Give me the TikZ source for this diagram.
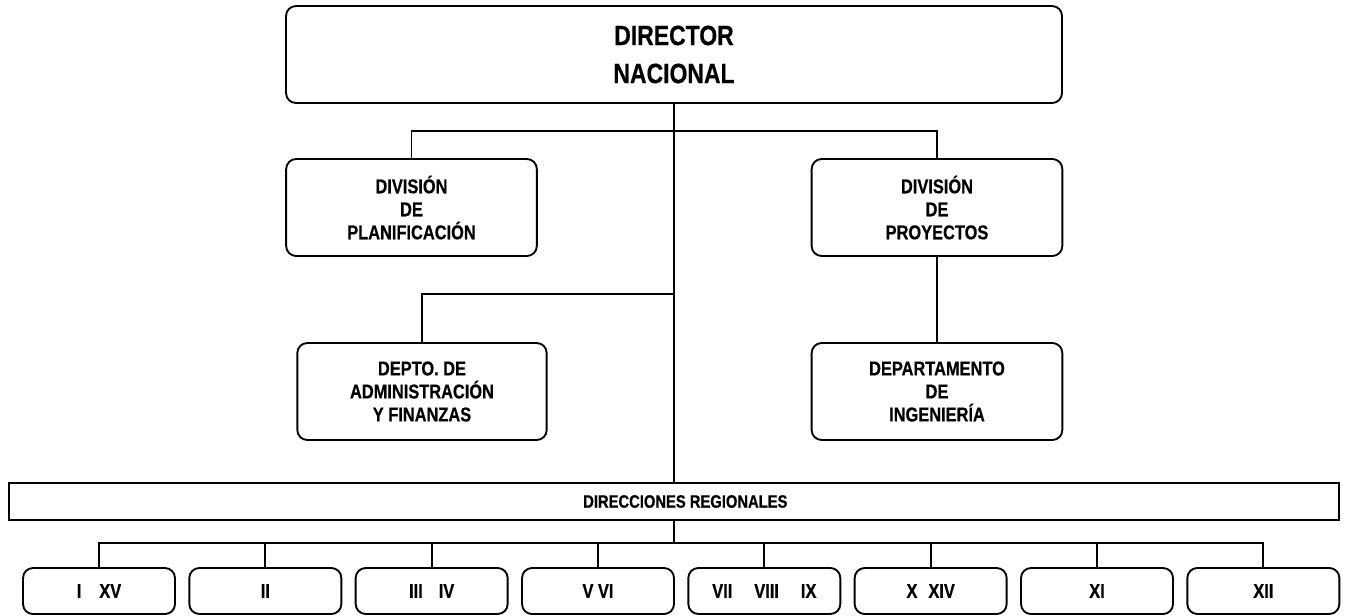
\documentclass[tikz,border=0pt]{standalone}
\usepackage{fontspec}
\setmainfont{Liberation Sans}[FakeStretch=0.82,BoldFeatures={FakeBold=0.5}]
\usetikzlibrary{positioning}

\begin{document}
\begin{tikzpicture}[x=0.75pt,y=-0.75pt,line width=1.4pt,node distance=124.75pt,on grid,
	box/.style={draw,rounded corners=7.5pt,align=center,inner sep=0pt,
		font=\bfseries\fontsize{15}{17.25}\selectfont,minimum width=188pt,minimum height=72.75pt},
	region/.style={draw,rounded corners=7.5pt,inner sep=0pt,
		font=\bfseries\fontsize{15}{17}\selectfont,minimum width=114pt,minimum height=34.5pt}]

	\useasboundingbox (0,0) rectangle (1345,615);

	\node[box,minimum width=582pt,font=\bfseries\fontsize{21}{28.5}\selectfont] (dir) at (674,54.5) {DIRECTOR\\NACIONAL};
	\node[box] (plan) at (411.5,207.5) {DIVISIÓN\\DE\\PLANIFICACIÓN};
	\node[box] (proy) at (937,207.5) {DIVISIÓN\\DE\\PROYECTOS};
	\node[box,minimum width=187pt] (adm) at (422,391.5) {DEPTO. DE\\ADMINISTRACIÓN\\Y FINANZAS};
	\node[box] (ing) at (937,391.5) {DEPARTAMENTO\\DE\\INGENIERÍA};
	\node[draw,inner sep=0pt,minimum width=997.5pt,minimum height=27.75pt,
		font=\bfseries\fontsize{13.5}{16}\selectfont] (reg) at (674,501.5) {\hspace*{17pt}DIRECCIONES REGIONALES};

	\node[region] (r1) at (99,591) {I\hspace{0.9em}XV};
	\node[region] (r2) [right=of r1] {II};
	\node[region] (r3) [right=of r2] {III\hspace{0.8em}IV};
	\node[region] (r4) [right=of r3] {V VI};
	\node[region] (r5) [right=of r4] {VII\hspace{1.1em}VIII\hspace{1.1em}IX};
	\node[region] (r6) [right=of r5] {X\hspace{0.55em}XIV};
	\node[region] (r7) [right=of r6] {XI};
	\node[region] (r8) [right=of r7] {XII};

	% lineas de mando
	\coordinate (j1) at (674,131);
	\coordinate (j2) at (674,294);
	\coordinate (j3) at (674,543);
	\draw (dir.south) -- (j1) -- (reg.north);
	\draw (plan.north) |- (j1) -| (proy.north);
	\draw (adm.north) |- (j2);
	\draw (proy.south) -- (ing.north);
	\draw (reg.south) -- (j3);
	\draw (r1.north) |- (j3) -| (r8.north);
	\draw (r2.north) -- (r2.north |- j3);
	\draw (r3.north) -- (r3.north |- j3);
	\draw (r4.north) -- (r4.north |- j3);
	\draw (r5.north) -- (r5.north |- j3);
	\draw (r6.north) -- (r6.north |- j3);
	\draw (r7.north) -- (r7.north |- j3);

\end{tikzpicture}
\end{document}
